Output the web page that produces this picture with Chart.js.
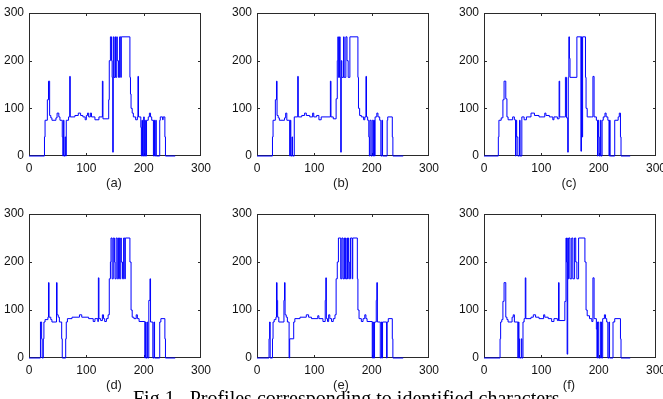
<!DOCTYPE html>
<html>
<head>
<meta charset="utf-8">
<script src="https://cdn.jsdelivr.net/npm/chart.js@4/dist/chart.umd.min.js"></script>
<style>
    html, body { margin: 0; padding: 0; background: #fff; }
    body { width: 663px; height: 399px; overflow: hidden; position: relative; }
    canvas { position: absolute; }
    .sub { position: absolute; width: 40px; margin-left: -20px; text-align: center;
           font: 13px "Liberation Sans", Arial, sans-serif; color: #222; line-height: 14px; }
    .caption { position: absolute; left: 133px; top: 388px; white-space: pre;
               font: 20px "Liberation Serif", "Times New Roman", serif; color: #000; line-height: 20px; }
</style>
</head>
<body>

<canvas id="chartA" width="221" height="200" style="left:0px;top:0px"></canvas>
<canvas id="chartB" width="221" height="200" style="left:228px;top:0px"></canvas>
<canvas id="chartC" width="221" height="200" style="left:455px;top:0px"></canvas>
<canvas id="chartD" width="221" height="201" style="left:0px;top:201px"></canvas>
<canvas id="chartE" width="221" height="201" style="left:228px;top:201px"></canvas>
<canvas id="chartF" width="221" height="201" style="left:455px;top:201px"></canvas>

<div class="sub" style="left:114px;top:176px">(a)</div>
<div class="sub" style="left:341px;top:176px">(b)</div>
<div class="sub" style="left:569px;top:176px">(c)</div>
<div class="sub" style="left:114px;top:378px">(d)</div>
<div class="sub" style="left:341px;top:378px">(e)</div>
<div class="sub" style="left:569px;top:378px">(f)</div>

<div class="caption">Fig.1.  Profiles corresponding to identified characters</div>

<script>
// Axis ticks (same for every panel)
var xTicks = [0, 100, 200, 300];
var yTicks = [0, 100, 200, 300];

// Profiles: value y[i] holds from x[i] until x[i+1]
var profileAx = [0, 27, 28, 32, 34, 36, 38, 40, 47, 49, 52, 54, 58, 59, 60, 61, 63, 64, 65, 69, 71, 72, 80, 86, 90, 94, 98, 100, 102, 104, 107, 109, 115, 122, 128, 129, 139, 140, 142, 144, 145, 146, 147, 148, 150, 151, 153, 154, 156, 158, 160, 161, 176, 177, 178, 180, 182, 186, 189, 190, 191, 195, 196, 197, 198, 200, 201, 202, 203, 205, 208, 210, 212, 214, 217, 218, 219, 221, 222, 228, 229, 233, 234, 237, 238, 255];
var profileAy = [0, 40, 75, 118, 157, 85, 80, 75, 80, 90, 82, 75, 40, 0, 75, 0, 40, 0, 75, 82, 167, 82, 85, 90, 85, 82, 76, 85, 90, 82, 90, 82, 76, 82, 157, 78, 118, 200, 250, 200, 165, 8, 250, 165, 250, 165, 250, 200, 165, 250, 165, 250, 165, 130, 100, 90, 82, 76, 82, 167, 82, 60, 0, 75, 0, 82, 0, 75, 0, 75, 82, 90, 82, 75, 0, 75, 0, 75, 0, 75, 82, 76, 82, 40, 0, 0];

var profileBx = [0, 27, 28, 32, 34, 35, 37, 39, 48, 50, 52, 57, 58, 59, 61, 62, 65, 71, 72, 78, 83, 86, 92, 97, 99, 104, 108, 112, 128, 129, 133, 138, 140, 141, 142, 144, 145, 146, 147, 148, 151, 152, 155, 157, 159, 162, 176, 177, 179, 182, 186, 188, 190, 191, 193, 195, 196, 197, 199, 201, 203, 204, 205, 206, 209, 211, 214, 216, 218, 219, 227, 228, 236, 237, 255];
var profileBy = [0, 40, 75, 118, 157, 85, 80, 75, 80, 90, 75, 0, 75, 0, 40, 0, 82, 167, 82, 85, 90, 85, 82, 90, 82, 85, 76, 82, 157, 82, 78, 120, 200, 250, 165, 250, 165, 8, 200, 165, 250, 165, 250, 200, 165, 250, 165, 100, 85, 82, 76, 82, 167, 82, 75, 40, 0, 75, 0, 75, 0, 75, 0, 82, 90, 82, 75, 0, 75, 0, 75, 82, 40, 0, 0];

var profileCx = [0, 25, 26, 30, 33, 35, 38, 40, 42, 50, 53, 55, 56, 57, 59, 62, 63, 66, 70, 74, 82, 88, 96, 106, 108, 114, 120, 122, 128, 131, 132, 140, 142, 144, 146, 147, 148, 149, 150, 162, 169, 170, 171, 172, 177, 178, 180, 188, 190, 192, 196, 198, 199, 200, 201, 203, 204, 206, 208, 211, 213, 216, 218, 219, 220, 228, 234, 236, 238, 239, 255];
var profileCy = [0, 40, 75, 80, 118, 157, 120, 82, 76, 82, 76, 0, 75, 40, 0, 75, 0, 82, 76, 82, 90, 85, 82, 90, 85, 82, 76, 82, 78, 157, 82, 82, 165, 80, 8, 165, 250, 205, 165, 250, 10, 250, 40, 250, 165, 100, 82, 82, 167, 82, 75, 0, 75, 40, 0, 75, 0, 75, 82, 90, 82, 75, 0, 75, 0, 75, 82, 90, 40, 0, 0];

var profileDx = [0, 20, 22, 23, 25, 26, 28, 33, 34, 35, 38, 40, 48, 49, 51, 53, 57, 58, 64, 65, 67, 75, 88, 92, 104, 112, 115, 120, 121, 122, 125, 128, 130, 132, 135, 138, 140, 142, 143, 145, 147, 149, 150, 152, 154, 156, 158, 160, 161, 163, 165, 167, 168, 176, 178, 180, 183, 187, 189, 192, 202, 203, 204, 206, 207, 209, 211, 212, 216, 218, 219, 228, 230, 237, 238, 255];
var profileDy = [0, 75, 40, 0, 40, 75, 80, 85, 157, 85, 80, 75, 157, 90, 85, 75, 40, 0, 40, 75, 82, 85, 90, 85, 82, 76, 82, 76, 167, 82, 78, 90, 82, 76, 82, 90, 165, 200, 250, 165, 250, 200, 165, 250, 165, 250, 165, 250, 200, 165, 250, 165, 250, 200, 100, 85, 82, 90, 82, 76, 0, 75, 0, 75, 0, 120, 165, 75, 0, 75, 0, 75, 82, 40, 0, 0];

var profileEx = [0, 21, 22, 23, 27, 28, 30, 33, 34, 35, 36, 38, 47, 48, 49, 51, 53, 56, 57, 64, 66, 75, 86, 90, 95, 106, 108, 115, 119, 120, 121, 123, 125, 127, 130, 133, 136, 138, 140, 142, 146, 148, 150, 152, 153, 154, 155, 157, 158, 159, 160, 161, 163, 166, 167, 175, 176, 178, 182, 185, 188, 190, 192, 201, 202, 203, 205, 208, 209, 210, 215, 217, 218, 219, 226, 227, 229, 236, 237, 255];
var profileEy = [0, 40, 75, 0, 40, 75, 80, 85, 157, 120, 85, 75, 120, 157, 90, 85, 75, 0, 40, 75, 82, 85, 90, 85, 82, 88, 82, 76, 120, 167, 82, 76, 90, 82, 76, 82, 90, 165, 200, 250, 165, 250, 165, 250, 165, 250, 165, 250, 165, 250, 200, 165, 250, 165, 250, 165, 100, 82, 76, 82, 90, 82, 76, 0, 75, 0, 75, 120, 157, 75, 0, 75, 0, 75, 0, 75, 82, 40, 0, 0];

var profileFx = [0, 28, 29, 31, 33, 35, 38, 40, 42, 49, 51, 53, 59, 60, 61, 62, 65, 66, 68, 70, 72, 73, 82, 86, 90, 96, 104, 106, 112, 118, 122, 128, 130, 131, 141, 143, 144, 145, 146, 147, 148, 150, 153, 155, 158, 160, 162, 165, 176, 178, 180, 184, 188, 190, 192, 196, 197, 198, 200, 203, 205, 207, 210, 212, 214, 216, 218, 219, 225, 228, 238, 239, 255];
var profileFy = [0, 40, 75, 80, 118, 157, 85, 80, 75, 85, 90, 75, 0, 75, 40, 0, 40, 0, 75, 82, 167, 82, 85, 90, 85, 82, 90, 85, 82, 76, 82, 78, 157, 78, 118, 250, 200, 8, 250, 165, 250, 165, 250, 165, 250, 200, 165, 250, 200, 100, 88, 82, 76, 167, 82, 60, 0, 75, 0, 75, 0, 82, 90, 82, 75, 0, 75, 0, 75, 82, 40, 0, 0];

// Build {x, y} points from two lists
function toPoints(xs, ys) {
    return xs.map(function (x, i) {
        return { x: x, y: ys[i] };
    });
}

// Matlab style box with inward tick marks, drawn under the line
var boxFrame = {
    id: 'boxFrame',
    beforeDatasetsDraw: function (chart) {
        var ctx = chart.ctx;
        var area = chart.chartArea;
        var xs = chart.scales.x;
        var ys = chart.scales.y;
        var len = 3;

        ctx.save();
        ctx.strokeStyle = '#2a2a2a';
        ctx.lineWidth = 1;
        ctx.strokeRect(Math.round(area.left) + 0.5, Math.round(area.top) + 0.5,
            Math.round(area.width) - 1, Math.round(area.height) - 1);

        ctx.beginPath();
        [100, 200].forEach(function (v) {
            var px = Math.round(xs.getPixelForValue(v)) + 0.5;
            ctx.moveTo(px, area.bottom);
            ctx.lineTo(px, area.bottom - len);
            ctx.moveTo(px, area.top);
            ctx.lineTo(px, area.top + len);

            var py = Math.round(ys.getPixelForValue(v)) + 0.5;
            ctx.moveTo(area.left, py);
            ctx.lineTo(area.left + len, py);
            ctx.moveTo(area.right, py);
            ctx.lineTo(area.right - len, py);
        });
        ctx.stroke();
        ctx.restore();
    }
};

/**
 * Draw one profile panel
 * @param canvasId
 * @param xs
 * @param ys
 */
function drawProfile(canvasId, xs, ys) {
    var ctx = document.getElementById(canvasId);
    var tickFont = { family: '"Liberation Sans", Arial, sans-serif', size: 12 };

    new Chart(ctx, {
        type: 'line',
        data: {
            datasets: [{
                data: toPoints(xs, ys),
                stepped: true,
                borderColor: '#0000ff',
                borderWidth: 1,
                pointRadius: 0,
                fill: false,
                clip: 2
            }]
        },
        options: {
            responsive: false,
            animation: false,
            layout: { padding: { top: 13, right: 20, left: 0, bottom: 0 } },
            plugins: { legend: { display: false }, tooltip: { enabled: false } },
            scales: {
                x: {
                    type: 'linear',
                    min: 0,
                    max: 300,
                    afterBuildTicks: function (scale) {
                        scale.ticks = xTicks.map(function (v) { return { value: v }; });
                    },
                    afterFit: function (scale) { scale.height = 44; },
                    grid: { display: false, drawTicks: false },
                    border: { display: false },
                    ticks: { padding: 5, maxRotation: 0, autoSkip: false, color: '#111', font: tickFont }
                },
                y: {
                    min: 0,
                    max: 300,
                    afterBuildTicks: function (scale) {
                        scale.ticks = yTicks.map(function (v) { return { value: v }; });
                    },
                    afterFit: function (scale) { scale.width = 29; },
                    grid: { display: false, drawTicks: false },
                    border: { display: false },
                    ticks: { padding: 5, color: '#111', font: tickFont }
                }
            }
        },
        plugins: [boxFrame]
    });
}

drawProfile('chartA', profileAx, profileAy);
drawProfile('chartB', profileBx, profileBy);
drawProfile('chartC', profileCx, profileCy);
drawProfile('chartD', profileDx, profileDy);
drawProfile('chartE', profileEx, profileEy);
drawProfile('chartF', profileFx, profileFy);
</script>
</body>
</html>
